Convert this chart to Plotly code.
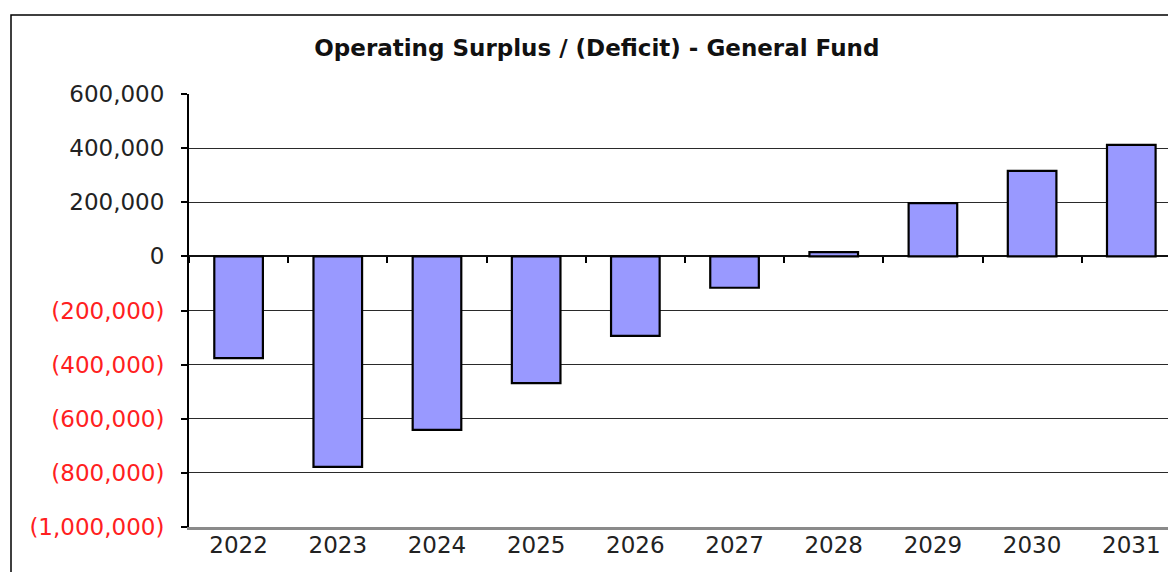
import plotly.graph_objects as go

years = ["2022", "2023", "2024", "2025", "2026", "2027", "2028", "2029", "2030", "2031"]
surplus = [-376000, -778000, -641000, -468000, -294000, -116000, 16000, 197000, 316000, 412000]
tick_values = [600000, 400000, 200000, 0, -200000, -400000, -600000, -800000, -1000000]


def fmt(v):
    if v < 0:
        return '<span style="color:#ff2020">({:,})</span>'.format(-v)
    return "{:,}".format(v)


tick_text = [fmt(v) for v in tick_values]

fig = go.Figure()
fig.add_trace(go.Bar(
    x=years, y=surplus,
    marker=dict(color="#9999ff", line=dict(color="#000000", width=2.2)),
    width=0.49, showlegend=False,
))
# helper trace so that the zero-crossing axis with boundary ticks is drawn
fig.add_trace(go.Scatter(
    x=years, y=surplus, xaxis="x2", mode="markers",
    marker=dict(size=0, opacity=0), showlegend=False, hoverinfo="skip",
))

xrange = [-0.5, 9.37]
fig.update_layout(
    width=1168, height=572,
    margin=dict(l=189, r=0, t=94, b=45),
    paper_bgcolor="white", plot_bgcolor="white",
    font=dict(family="DejaVu Sans", color="#222222"),
    title=dict(
        text="<b>Operating Surplus / (Deficit) - General Fund</b>",
        x=0.511, xref="container", xanchor="center",
        y=1 - 48 / 572, yref="container", yanchor="middle",
        font=dict(family="DejaVu Sans", size=23, color="#111111"),
    ),
    xaxis=dict(
        type="category", range=xrange, showgrid=False,
        showline=True, linecolor="#8a8a8a", linewidth=2.5,
        ticks="", tickfont=dict(size=23, color="#222222"),
        ticklabelstandoff=-4,
    ),
    xaxis2=dict(
        type="category", overlaying="x", anchor="free", position=0.625,
        range=xrange, showgrid=False, showline=False,
        ticks="outside", tickson="boundaries", ticklen=6, tickwidth=1.5,
        tickcolor="#000000", showticklabels=False,
    ),
    yaxis=dict(
        range=[-1000000, 600000], tickvals=tick_values, ticktext=tick_text,
        showgrid=True, gridcolor="#2a2a2a", gridwidth=1.2,
        zeroline=True, zerolinecolor="#111111", zerolinewidth=1.5,
        showline=True, linecolor="#000000", linewidth=2,
        ticks="outside", ticklen=6, tickwidth=1.5, tickcolor="#000000",
        tickfont=dict(size=23, color="#222222"),
        ticklabelstandoff=12,
    ),
    bargap=0.51,
)

fig.add_shape(
    type="rect", xref="paper", yref="paper",
    x0=(11 - 189) / 979, x1=1.2, y0=-0.3, y1=1 + (94 - 15) / 433,
    line=dict(color="#000000", width=1.5), fillcolor="rgba(0,0,0,0)",
    layer="above",
)

fig.write_html("out.html")
